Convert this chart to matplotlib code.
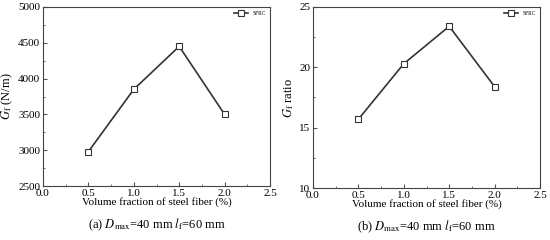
import matplotlib.pyplot as plt
from matplotlib.ticker import MultipleLocator

plt.rcParams['font.family'] = ['Liberation Serif', 'DejaVu Serif']
plt.rcParams['mathtext.fontset'] = 'stix'

vf = [0.5, 1.0, 1.5, 2.0]
gf = [2980, 3850, 4450, 3500]
gf_ratio = [15.7, 20.3, 23.4, 18.4]

fig = plt.figure(figsize=(5.5, 2.4), dpi=100)
ax1 = fig.add_axes([43/550, 1 - 186/240, 227/550, 179/240])
ax2 = fig.add_axes([313/550, 1 - 188/240, 227/550, 181/240])

panels = [
    (ax1, gf, (2500, 5000), 500, 250, r'$G_{\rm f}$ (N/m)', r'(a) $D_{\rm max}$=40 mm $l_{\rm f}$=60 mm'),
    (ax2, gf_ratio, (10, 25), 5, 2.5, r'$G_{\rm f}$ ratio', r'(b) $D_{\rm max}$=40 mm $l_{\rm f}$=60 mm'),
]

for ax, y, ylim, major, minor, ylabel, caption in panels:
    ax.plot(vf, y, color='#333333', lw=1.2, marker='s', ms=4, mfc='white',
            mec='#333333', mew=0.8, label='SFRC')
    ax.set_xlim(0, 2.5)
    ax.set_ylim(*ylim)
    ax.xaxis.set_major_locator(MultipleLocator(0.5))
    ax.xaxis.set_minor_locator(MultipleLocator(0.25))
    ax.yaxis.set_major_locator(MultipleLocator(major))
    ax.yaxis.set_minor_locator(MultipleLocator(minor))
    ax.tick_params(which='both', direction='in', labelsize=8, color='#555555')
    ax.tick_params(axis='x', pad=2.5)
    ax.tick_params(axis='y', pad=2)
    ax.tick_params(which='major', length=3)
    ax.tick_params(which='minor', length=1.5)
    for s in ax.spines.values():
        s.set_color('#444444')
        s.set_linewidth(0.8)
    ax.set_xlabel('Volume fraction of steel fiber (%)', fontsize=8, labelpad=-1)
    ax.set_ylabel(ylabel, fontsize=9, labelpad=2)
    ax.legend(loc='upper right', fontsize=4, frameon=False, handlelength=2.5,
              borderaxespad=0.3)
    ax.text(0.5, -0.215, caption, transform=ax.transAxes, ha='center', va='center', fontsize=9)

fig.savefig('out.png', dpi=100)
